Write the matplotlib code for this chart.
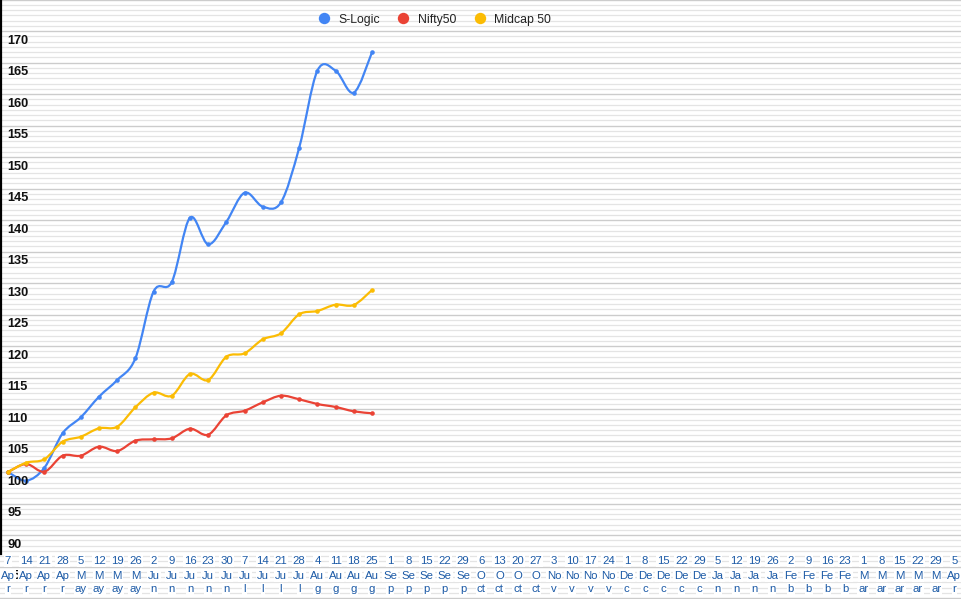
import numpy as np
import matplotlib
matplotlib.use("Agg")
import matplotlib.pyplot as plt
from matplotlib.path import Path
from matplotlib.patches import PathPatch
from matplotlib.lines import Line2D

# ---------------- data ----------------
days = [7, 14, 21, 28, 5, 12, 19, 26, 2, 9, 16, 23, 30, 7, 14, 21, 28, 4, 11, 18, 25,
        1, 8, 15, 22, 29, 6, 13, 20, 27, 3, 10, 17, 24, 1, 8, 15, 22, 29, 5, 12, 19, 26,
        2, 9, 16, 23, 1, 8, 15, 22, 29, 5]
months = (["Apr"] * 4 + ["May"] * 4 + ["Jun"] * 5 + ["Jul"] * 4 + ["Aug"] * 4 +
          ["Sep"] * 5 + ["Oct"] * 4 + ["Nov"] * 4 + ["Dec"] * 5 + ["Jan"] * 4 +
          ["Feb"] * 4 + ["Mar"] * 5 + ["Apr"] * 1)
month_wrap = {"Apr": ("Ap", "r"), "May": ("M", "ay"), "Jun": ("Ju", "n"), "Jul": ("Ju", "l"),
              "Aug": ("Au", "g"), "Sep": ("Se", "p"), "Oct": ("O", "ct"), "Nov": ("No", "v"),
              "Dec": ("De", "c"), "Jan": ("Ja", "n"), "Feb": ("Fe", "b"), "Mar": ("M", "ar")}

s_logic = [100.0, 98.62, 100.68, 106.14, 108.68, 111.95, 114.6, 118.05, 128.65, 130.16,
           140.37, 136.14, 139.73, 144.33, 142.11, 142.81, 151.48, 163.7, 163.7, 160.21, 166.62]
nifty50 = [100.0, 101.27, 100.05, 102.59, 102.59, 104.02, 103.33, 104.97, 105.19, 105.35,
           106.87, 105.92, 109.0, 109.73, 111.06, 112.11, 111.54, 110.79, 110.32, 109.63, 109.32]
midcap50 = [100.0, 101.48, 102.02, 104.81, 105.6, 106.94, 107.19, 110.27, 112.59, 112.11,
            115.56, 114.6, 118.3, 118.84, 121.06, 122.02, 125.03, 125.56, 126.56, 126.51, 128.89]

series_names = ["S-Logic", "Nifty50", "Midcap 50"]
series_colors = ["#4285f4", "#ea4335", "#fbbc04"]
y_labels = [85, 90, 95, 100, 105, 110, 115, 120, 125, 130, 135, 140, 145, 150, 155, 160, 165, 170]

# ---------------- figure ----------------
W, H = 962, 599
fig = plt.figure(figsize=(W / 100, H / 100), dpi=100)
ax = fig.add_axes([0, 0, 1, 1])
ax.set_axis_off()

px_per_step = 18.2
x0_px = 8.0
px_per_unit = 6.3
y100_px = 472.0
xlim = (-x0_px / px_per_step, (W - x0_px) / px_per_step)
ylim = (100 - (H - y100_px) / px_per_unit, 100 + y100_px / px_per_unit)
ax.set_xlim(*xlim)
ax.set_ylim(*ylim)

# gridlines
for k in range(int(np.floor(ylim[0] / (5 / 6))), int(np.ceil(ylim[1] / (5 / 6))) + 1):
    v = k * 5 / 6
    if k % 6 == 0:
        ax.axhline(v, color="#cccccc", lw=1.0, zorder=1)
    else:
        ax.axhline(v, color="#e4e4e4", lw=0.9, zorder=0.5)

# left axis line
base_val = 100 - (554 - y100_px) / px_per_unit
ax.axvline(xlim[0] + 0.8 / px_per_step, ymin=(base_val - ylim[0]) / (ylim[1] - ylim[0]), ymax=1,
           color="black", lw=1.6, zorder=3)


def smooth_path(xs, ys):
    pts = np.column_stack([xs, ys]).astype(float)
    n = len(pts)
    verts = [pts[0]]
    codes = [Path.MOVETO]
    for k in range(n - 1):
        p0 = pts[k - 1] if k > 0 else pts[k]
        p1 = pts[k]
        p2 = pts[k + 1]
        p3 = pts[k + 2] if k + 2 < n else pts[k + 1]
        c1 = p1 + (p2 - p0) / 6.0
        c2 = p2 - (p3 - p1) / 6.0
        verts += [c1, c2, p2]
        codes += [Path.CURVE4] * 3
    return Path(verts, codes)


for z, (vals, col) in enumerate(zip([s_logic, nifty50, midcap50], series_colors)):
    xs = np.arange(len(vals))
    patch = PathPatch(smooth_path(xs, vals), fill=False, edgecolor=col, lw=1.6,
                      zorder=4 + z, capstyle="round", joinstyle="round")
    ax.add_patch(patch)
    ax.plot(xs, vals, "o", color=col, ms=3.3, mew=0, zorder=4 + z)

# y labels (drawn just below their gridline)
for v in y_labels:
    ax.annotate(str(v), xy=(0, v), xycoords=("axes fraction", "data"),
                xytext=(7 * 0.72, -9.5 * 0.72), textcoords="offset points",
                ha="left", va="center", fontsize=9.2, fontweight="bold",
                family="Liberation Sans", color="#111111", zorder=8)

# x labels (three rows)
xt = ax.get_xaxis_transform()
row_px = [561, 576, 589]
for i, (d, m) in enumerate(zip(days, months)):
    top, bot = month_wrap[m]
    for txt, ypx in zip([str(d), top, bot], row_px):
        ax.text(i, 1 - ypx / H, txt, transform=xt, ha="center", va="center",
                fontsize=8.2, family="Liberation Sans", color="#1c5aa6", zorder=10,
                bbox=dict(boxstyle="square,pad=0.08", fc="white", ec="none"))

# legend
handles = [Line2D([], [], marker="o", ls="none", color=c, markersize=8.2, mew=0)
           for c in series_colors]
leg = ax.legend(handles, series_names, loc="center", bbox_to_anchor=(435 / W, 1 - 19.5 / H),
                ncol=3, frameon=False, handlelength=0.8, handletextpad=0.8,
                columnspacing=1.5, borderpad=0, borderaxespad=0,
                prop={"family": "Liberation Sans", "size": 8.8})
for t in leg.get_texts():
    t.set_color("#222222")
leg.set_zorder(12)

fig.savefig("out.png", dpi=100)
